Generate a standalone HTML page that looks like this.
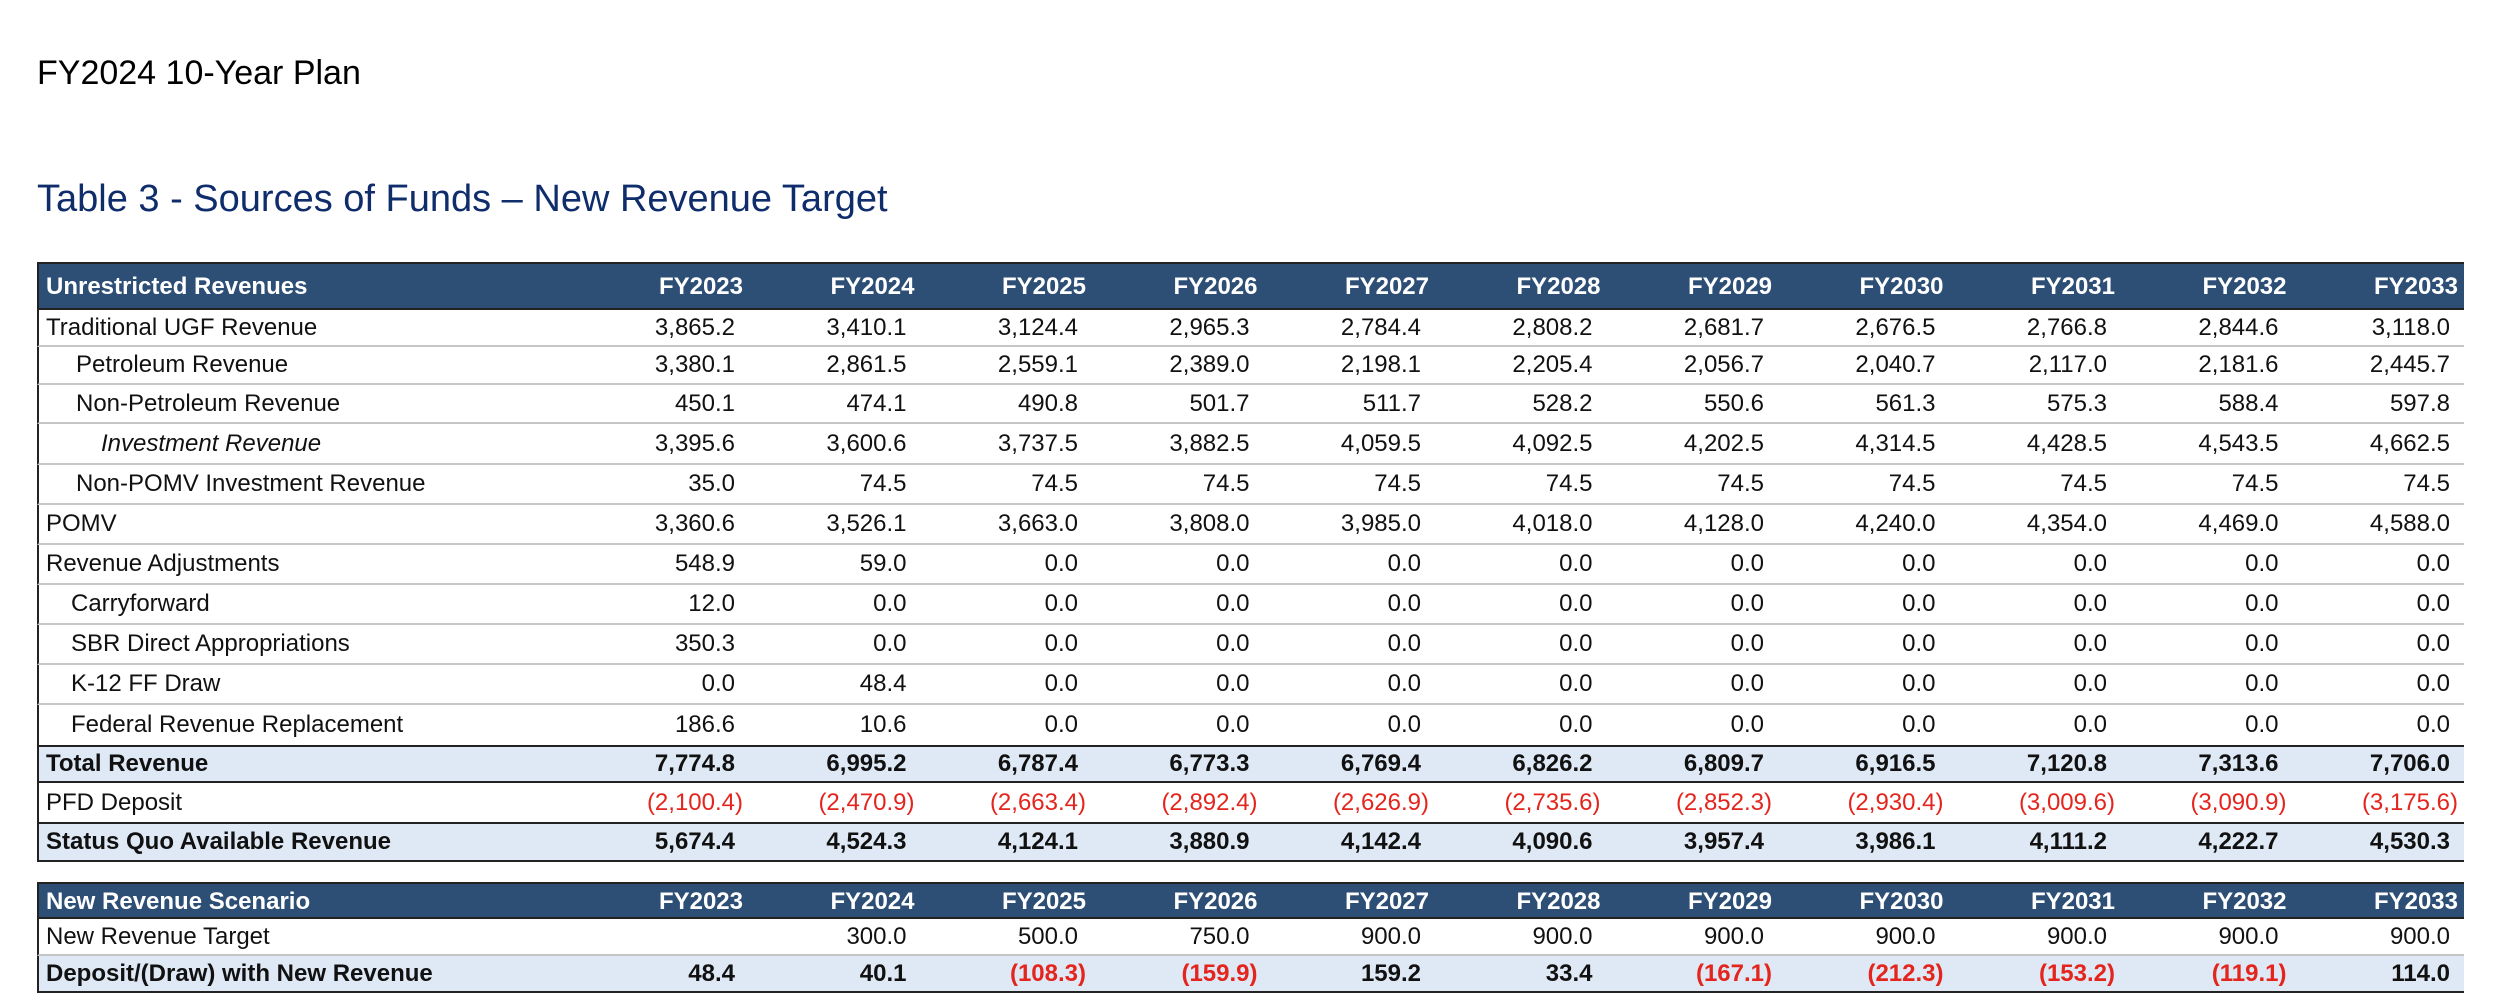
<!DOCTYPE html>
<html><head><meta charset="utf-8"><style>
html,body{margin:0;padding:0;background:#fff;width:2500px;height:1003px;overflow:hidden;position:relative;font-family:"Liberation Sans",sans-serif;}
.abs{position:absolute;}
.row{position:absolute;left:37px;width:2427px;box-sizing:border-box;}
.lbl{position:absolute;white-space:nowrap;font-size:24px;color:#111;}
.val{position:absolute;white-space:nowrap;font-size:24px;color:#111;text-align:right;}
.hdr{background:#2d4e75;color:#fff;font-weight:bold;}
.hdr .lbl,.hdr .val{color:#fff;font-weight:bold;}
.tot{background:#dfe9f5;}
.tot .lbl,.tot .val{font-weight:bold;}
.neg{color:#e3251d !important;}
</style></head><body>
<div class="abs" style="left:37px;top:54px;font-size:34px;color:#000;">FY2024 10-Year Plan</div>
<div class="abs" style="left:37px;top:178px;font-size:38px;color:#0f2c6b;">Table 3 - Sources of Funds – New Revenue Target</div>
<div id="tbl"></div>
<script>
const years = ["FY2023","FY2024","FY2025","FY2026","FY2027","FY2028","FY2029","FY2030","FY2031","FY2032","FY2033"];
const labels = ["Unrestricted Revenues","Traditional UGF Revenue","Petroleum Revenue","Non-Petroleum Revenue","Investment Revenue","Non-POMV Investment Revenue","POMV","Revenue Adjustments","Carryforward","SBR Direct Appropriations","K-12 FF Draw","Federal Revenue Replacement","Total Revenue","PFD Deposit","Status Quo Available Revenue","New Revenue Scenario","New Revenue Target","Deposit/(Draw) with New Revenue"];
const values = [
 null,
 ["3,865.2","3,410.1","3,124.4","2,965.3","2,784.4","2,808.2","2,681.7","2,676.5","2,766.8","2,844.6","3,118.0"],
 ["3,380.1","2,861.5","2,559.1","2,389.0","2,198.1","2,205.4","2,056.7","2,040.7","2,117.0","2,181.6","2,445.7"],
 ["450.1","474.1","490.8","501.7","511.7","528.2","550.6","561.3","575.3","588.4","597.8"],
 ["3,395.6","3,600.6","3,737.5","3,882.5","4,059.5","4,092.5","4,202.5","4,314.5","4,428.5","4,543.5","4,662.5"],
 ["35.0","74.5","74.5","74.5","74.5","74.5","74.5","74.5","74.5","74.5","74.5"],
 ["3,360.6","3,526.1","3,663.0","3,808.0","3,985.0","4,018.0","4,128.0","4,240.0","4,354.0","4,469.0","4,588.0"],
 ["548.9","59.0","0.0","0.0","0.0","0.0","0.0","0.0","0.0","0.0","0.0"],
 ["12.0","0.0","0.0","0.0","0.0","0.0","0.0","0.0","0.0","0.0","0.0"],
 ["350.3","0.0","0.0","0.0","0.0","0.0","0.0","0.0","0.0","0.0","0.0"],
 ["0.0","48.4","0.0","0.0","0.0","0.0","0.0","0.0","0.0","0.0","0.0"],
 ["186.6","10.6","0.0","0.0","0.0","0.0","0.0","0.0","0.0","0.0","0.0"],
 ["7,774.8","6,995.2","6,787.4","6,773.3","6,769.4","6,826.2","6,809.7","6,916.5","7,120.8","7,313.6","7,706.0"],
 ["(2,100.4)","(2,470.9)","(2,663.4)","(2,892.4)","(2,626.9)","(2,735.6)","(2,852.3)","(2,930.4)","(3,009.6)","(3,090.9)","(3,175.6)"],
 ["5,674.4","4,524.3","4,124.1","3,880.9","4,142.4","4,090.6","3,957.4","3,986.1","4,111.2","4,222.7","4,530.3"],
 null,
 ["","300.0","500.0","750.0","900.0","900.0","900.0","900.0","900.0","900.0","900.0"],
 ["48.4","40.1","(108.3)","(159.9)","159.2","33.4","(167.1)","(212.3)","(153.2)","(119.1)","114.0"]
];
const kinds = ["hdr","n","n","n","n","n","n","n","n","n","n","n","tot","n","tot","hdr","n","tot"];
const indents = [7,7,37,37,62,37,7,7,32,32,32,32,7,7,7,7,7,7];
const tops = [262,310,347,385,424,465,505,545,585,625,665,705,747,783,824,882,919,956];
const bottoms = [310,347,385,424,465,505,545,585,625,665,705,747,783,824,862,919,956,993];
const borders = ["d","g","g","g","g","g","g","g","g","g","g","d","d","d","d","d","g","d"];
const tbl = document.getElementById('tbl');
for (let r = 0; r < labels.length; r++) {
  const row = document.createElement('div');
  
  
  row.className = 'row ' + (kinds[r] === 'n' ? '' : kinds[r]);
  const h = bottoms[r] - tops[r];
  row.style.top = tops[r] + 'px';
  row.style.height = h + 'px';
  row.style.borderLeft = '2px solid #222';
  row.style.borderBottom = borders[r] === 'd' ? '2px solid #222' : '2px solid #c6c6c6';
  if (r === 0 || r === 15) row.style.borderTop = '2px solid #222';
  const lb = document.createElement('div');
  
  
  lb.className = 'lbl';
  lb.textContent = labels[r];
  lb.style.left = indents[r] + 'px';
  lb.style.top = '0px';
  lb.style.lineHeight = (h - 2) + 'px';
  if (r === 4) lb.style.fontStyle = 'italic';
  row.appendChild(lb);
  const vals = values[r] || years;
  for (let c = 0; c < vals.length; c++) {
    const v = document.createElement('div');
    
    
    v.className = 'val';
    const s = vals[c];
    v.textContent = s;
    const right = 735 + 171.5 * c + 8 - 37;
    const neg = s.charAt(0) === '(';
    v.style.right = (2427 - right) + 'px';
    v.style.top = '0px';
    v.style.lineHeight = (h - 2) + 'px';
    if (kinds[r] !== 'hdr' && !neg) v.style.paddingRight = '8px';
    if (neg) v.classList.add('neg');
    row.appendChild(v);
  }
  tbl.appendChild(row);
}
</script>
</body></html>
